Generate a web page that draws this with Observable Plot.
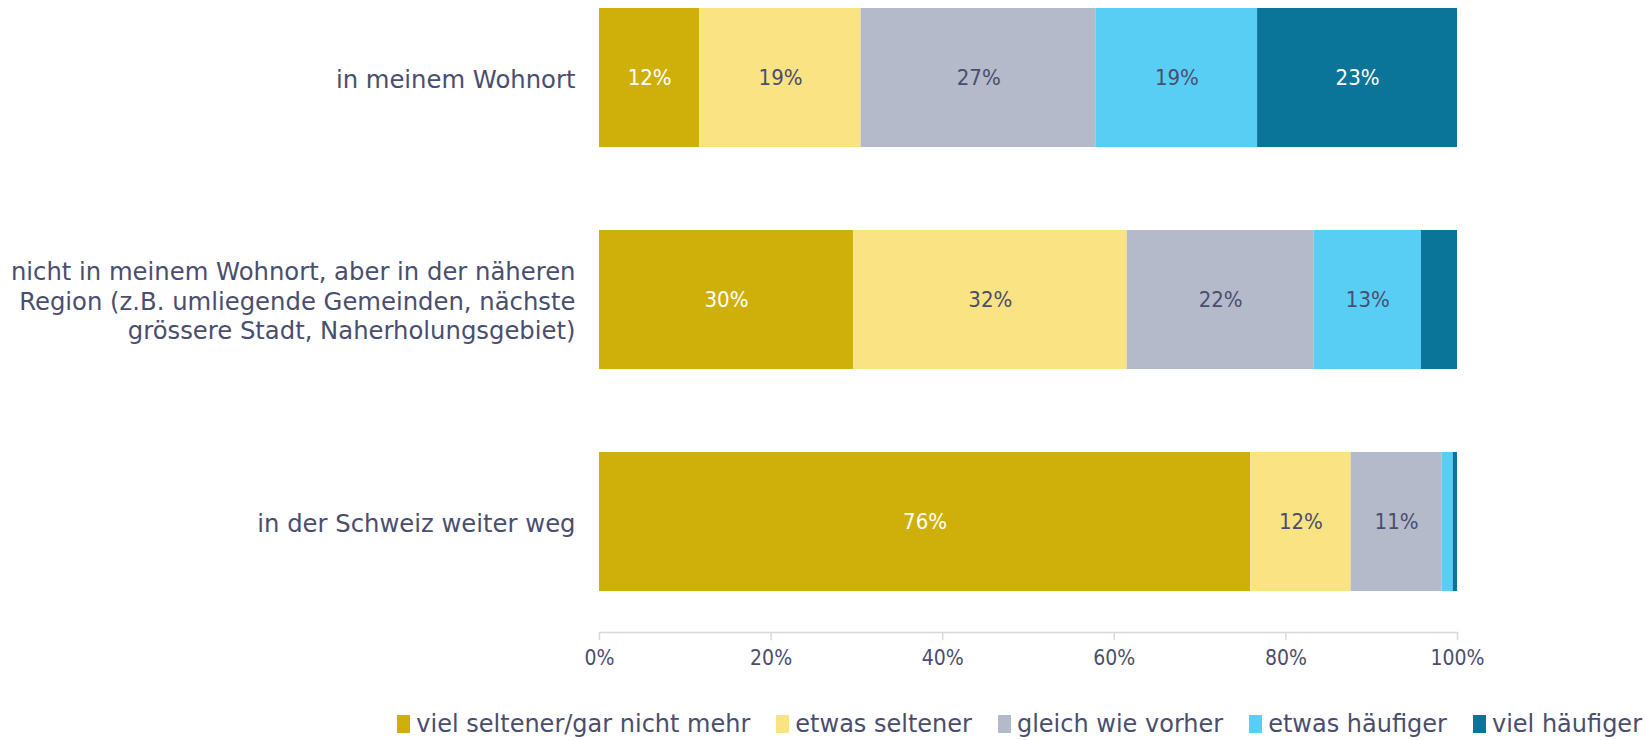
<!DOCTYPE html>
<html>
<head>
<meta charset="utf-8">
<script src="https://cdn.jsdelivr.net/npm/d3@7"></script>
<script src="https://cdn.jsdelivr.net/npm/@observablehq/plot@0.6"></script>
<style>
  html, body { margin: 0; padding: 0; background: #fff; }
  #chart { width: 1644px; height: 740px; position: relative; }
  .legend { position: absolute; top: 710px; right: 2px; display: flex; font-family: "DejaVu Sans", sans-serif; font-size: 24px; color: #4A4E6E; white-space: nowrap; }
  .legend span.item { display: inline-flex; align-items: center; margin-left: 26px; }
  .legend span.sw { display: inline-block; width: 13px; height: 18px; margin-right: 6px; }
</style>
</head>
<body>
<div id="chart"></div>
<script>
const categories = [
  "in meinem Wohnort",
  "nicht in meinem Wohnort, aber in der näheren\nRegion (z.B. umliegende Gemeinden, nächste\ngrössere Stadt, Naherholungsgebiet)",
  "in der Schweiz weiter weg"
];
const seriesNames = ["viel seltener/gar nicht mehr", "etwas seltener", "gleich wie vorher", "etwas häufiger", "viel häufiger"];
const vielSeltener = [11.7, 29.6, 75.9];
const etwasSeltener = [18.8, 31.9, 11.7];
const gleich = [27.4, 21.8, 10.6];
const etwasHaeufiger = [18.8, 12.5, 1.3];
const vielHaeufiger = [23.3, 4.2, 0.5];
const colors = ["#CFAF0A", "#F9E382", "#B4BACA", "#59CEF5", "#0B7499"];
const labelColors = ["#ffffff", "#4A4E6E", "#4A4E6E", "#4A4E6E", "#ffffff"];
const xTicks = [0, 20, 40, 60, 80, 100];

const seriesValues = [vielSeltener, etwasSeltener, gleich, etwasHaeufiger, vielHaeufiger];
const rows = [];
categories.forEach((c, ci) => {
  let acc = 0;
  seriesValues.forEach((vals, si) => {
    const v = vals[ci];
    rows.push({cat: c, series: seriesNames[si], si, value: v, x1: acc, x2: acc + v, mid: acc + v / 2});
    acc += v;
  });
});

const textColor = "#4A4E6E";
const narrow = "DejaVu Sans Condensed, Liberation Sans Narrow, sans-serif";
const plot = Plot.plot({
  width: 1644,
  height: 700,
  marginLeft: 599,
  marginRight: 187,
  marginTop: 0,
  marginBottom: 68,
  style: {fontFamily: "DejaVu Sans, sans-serif", color: textColor, background: "#fff"},
  x: {domain: [0, 100], axis: null},
  y: {domain: categories, range: [-34, 632], paddingInner: 0.374, paddingOuter: 0.187, axis: null},
  color: {domain: seriesNames, range: colors},
  marks: [
    Plot.barX(rows, {y: "cat", x1: "x1", x2: "x2", fill: "series"}),
    Plot.text(rows.filter(d => d.value >= 5), {
      y: "cat", x: "mid", text: d => Math.round(d.value) + "%",
      fill: d => labelColors[d.si], fontSize: 22, fontFamily: narrow
    }),
    Plot.frame({anchor: "bottom", stroke: "#D9D9D9", strokeWidth: 1.5, strokeOpacity: 1}),
    Plot.axisX({ticks: xTicks, tickSize: 8, tickPadding: 10, stroke: "#D9D9D9", strokeWidth: 1.5, strokeOpacity: 1,
      fontSize: 21, tickFormat: d => d + "%", fill: textColor, fontFamily: narrow}),
    Plot.text(categories, {y: d => d, x: 0, text: d => d, textAnchor: "end", dx: -24, fontSize: 24.3, lineHeight: 1.23, fill: textColor})
  ]
});
const chart = document.getElementById("chart");
chart.appendChild(plot);

const legend = document.createElement("div");
legend.className = "legend";
seriesNames.forEach((n, i) => {
  const it = document.createElement("span");
  it.className = "item";
  const sw = document.createElement("span");
  sw.className = "sw";
  sw.style.background = colors[i];
  it.appendChild(sw);
  it.appendChild(document.createTextNode(n));
  legend.appendChild(it);
});
chart.appendChild(legend);
</script>
</body>
</html>
